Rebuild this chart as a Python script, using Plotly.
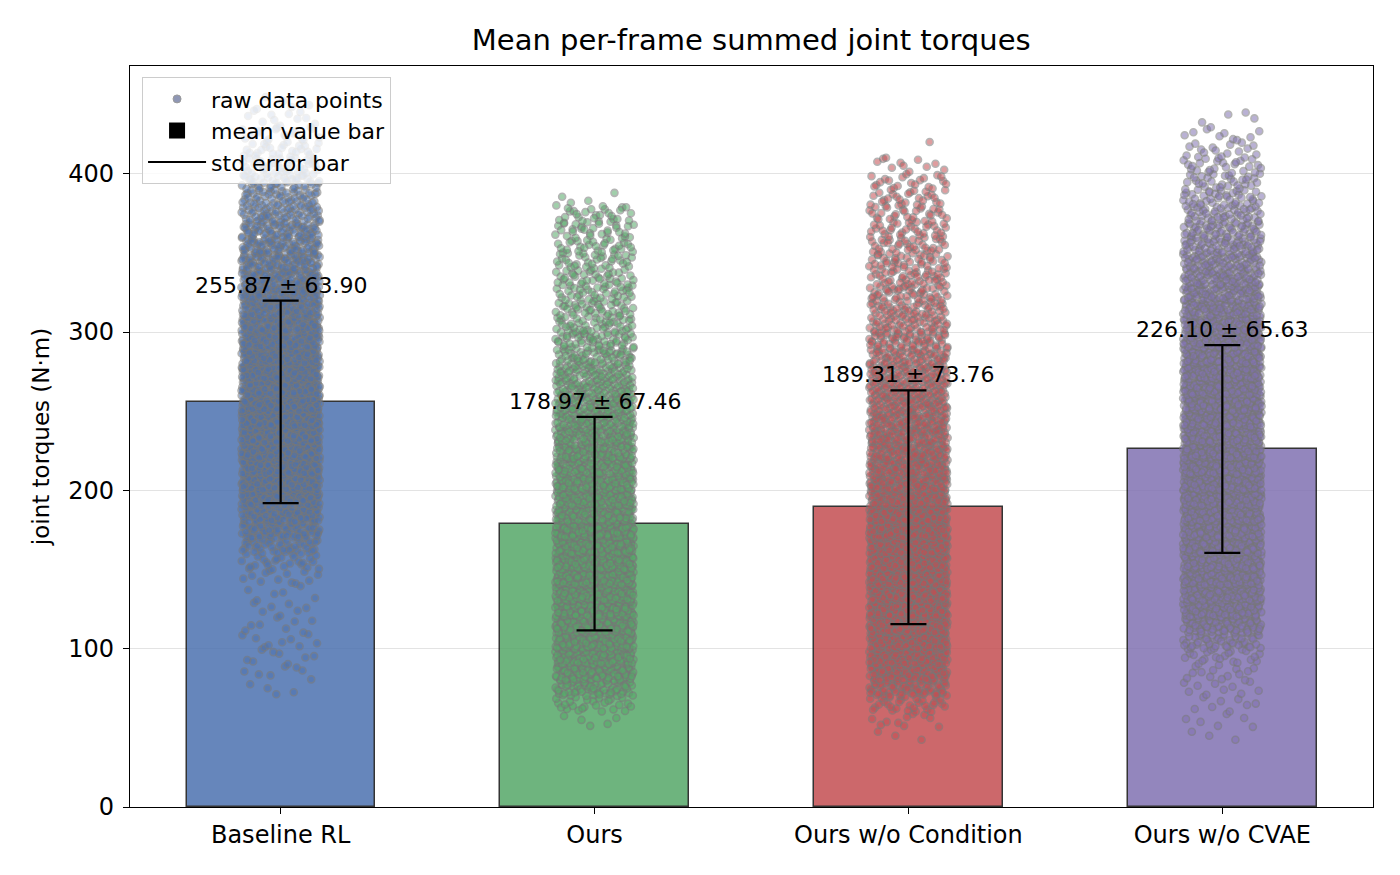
import plotly.graph_objects as go

# ---- data ----
methods = ["Baseline RL", "Ours", "Ours w/o Condition", "Ours w/o CVAE"]
mean_vals = [255.87, 178.97, 189.31, 226.10]
std_vals = [63.90, 67.46, 73.76, 65.63]

# raw points, estimated as counts per 10 N·m bin (bins start at 40, 50, ... 440)
bin_start = 40
bin_size = 10
counts_baseline = [0, 0, 0, 4, 7, 8, 9, 8, 7, 6, 12, 25, 45, 70, 95, 115, 130, 140, 150, 155, 160,
                   160, 160, 158, 150, 140, 130, 120, 110, 100, 90, 80, 70, 60, 50, 42, 34, 26, 18, 11, 5]
counts_ours = [0, 5, 25, 65, 100, 120, 135, 145, 150, 150, 150, 150, 150, 148, 145, 140, 132, 124, 115, 105, 96,
               86, 76, 66, 58, 50, 44, 40, 37, 35, 33, 31, 29, 25, 4, 0, 0, 0, 0, 0, 0]
counts_no_cond = [3, 10, 30, 65, 100, 120, 135, 145, 150, 152, 152, 150, 148, 145, 140, 135, 128, 120, 112, 104, 96,
                  88, 80, 72, 65, 58, 52, 47, 43, 40, 37, 34, 31, 28, 25, 20, 10, 2, 0, 0, 0]
counts_no_cvae = [3, 6, 8, 10, 14, 22, 45, 80, 105, 120, 132, 140, 145, 148, 150, 152, 154, 155, 155, 155, 154,
                  152, 148, 142, 134, 125, 115, 105, 95, 85, 75, 65, 55, 46, 38, 30, 24, 17, 10, 4, 0]
point_counts = [counts_baseline, counts_ours, counts_no_cond, counts_no_cvae]

bar_colors = ["#4C72B0", "#55A868", "#C44E52", "#8172B2"]


def radical_inverse(i, base):
    # deterministic low-discrepancy spread used for the jitter layout
    f, r = 1.0, 0.0
    while i > 0:
        f /= base
        r += f * (i % base)
        i //= base
    return r


fig = go.Figure()

# bars
fig.add_trace(go.Bar(
    x=list(range(len(methods))), y=mean_vals, width=0.6,
    marker=dict(color=bar_colors, opacity=0.85, line=dict(color="#111111", width=1.5)),
    showlegend=False, hoverinfo="skip"))

# jittered raw points
for i, counts in enumerate(point_counts):
    xs, ys = [], []
    k = 1
    for b, n in enumerate(counts):
        lo = bin_start + b * bin_size
        for _ in range(n):
            ys.append(lo + bin_size * radical_inverse(k, 2))
            xs.append(i + 0.125 * (2 * radical_inverse(k, 3) - 1))
            k += 1
    fig.add_trace(go.Scatter(
        x=xs, y=ys, mode="markers",
        marker=dict(size=7, color=bar_colors[i], opacity=0.55,
                    line=dict(color="#777777", width=1.6)),
        showlegend=False, hoverinfo="skip"))

# std error bars
fig.add_trace(go.Scatter(
    x=list(range(len(methods))), y=mean_vals, mode="markers",
    marker=dict(size=1, color="rgba(0,0,0,0)"),
    error_y=dict(type="data", array=std_vals, color="black", thickness=2.2, width=18),
    showlegend=False, hoverinfo="skip"))

# value labels
for i, (m, s) in enumerate(zip(mean_vals, std_vals)):
    fig.add_annotation(x=i, y=m + s, text=f"{m:.2f} ± {s:.2f}", showarrow=False,
                       yanchor="bottom", yshift=1, font=dict(size=22, color="black"))

# legend entries
fig.add_trace(go.Scatter(x=[None], y=[None], mode="markers", name="raw data points",
                         marker=dict(size=8, color="#8f97b5", line=dict(color="#9a9a9a", width=1))))
fig.add_trace(go.Scatter(x=[None], y=[None], mode="markers", name="mean value bar",
                         marker=dict(size=26, symbol="square", color="black")))
fig.add_trace(go.Scatter(x=[None], y=[None], mode="lines", name="std error bar",
                         line=dict(color="black", width=2)))

fig.update_layout(
    width=1384, height=859,
    margin=dict(l=122, r=19, t=58, b=60),
    paper_bgcolor="white", plot_bgcolor="white",
    font=dict(family="DejaVu Sans", size=24, color="black"),
    title=dict(text="Mean per-frame summed joint torques", x=0.537, xanchor="center",
               y=0.9627, yanchor="middle", font=dict(size=29)),
    legend=dict(x=0.0097, y=0.985, xanchor="left", yanchor="top",
                bgcolor="rgba(255,255,255,0.8)", bordercolor="#cccccc", borderwidth=1,
                font=dict(size=22), itemsizing="trace", itemwidth=58, tracegroupgap=0),
    bargap=0,
)
fig.update_xaxes(range=[-0.48, 3.48], tickvals=list(range(len(methods))), ticktext=methods,
                 showline=True, mirror=True, linecolor="black", linewidth=1.3,
                 ticks="outside", ticklen=6, tickcolor="black", showgrid=False, zeroline=False)
fig.update_yaxes(range=[0, 468], tickvals=[0, 100, 200, 300, 400], ticklabelstandoff=4,
                 title=dict(text="joint torques (N·m)", standoff=12, font=dict(size=23)),
                 showline=True, mirror=True, linecolor="black", linewidth=1.3,
                 ticks="outside", ticklen=6, tickcolor="black",
                 showgrid=True, gridcolor="#e3e3e3", gridwidth=1, zeroline=False)

fig.write_html("out.html")
